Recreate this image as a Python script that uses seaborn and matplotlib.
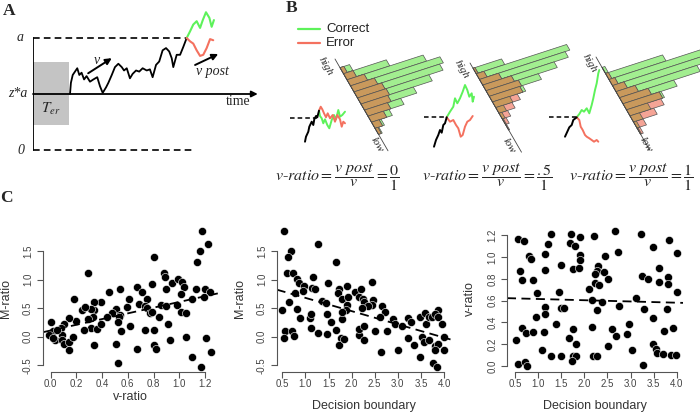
import matplotlib

matplotlib.use("Agg")

import matplotlib.pyplot as plt
import numpy as np
import pandas as pd
import seaborn as sns
from matplotlib.patches import Rectangle
from matplotlib.transforms import Affine2D

# ---------------- panel C data ----------------
c1_vratio = [1.18, 1.22, 1.16, 1.14, 0.80, 0.29, 0.88, 0.89, 0.94, 0.99, 1.02, 1.04, 0.79, 0.67, 0.71,
             0.45, 0.54, 1.13, 1.20, 1.24, 1.19, 1.10, 1.01, 0.90, 0.75, 0.61, 0.18, 0.39, 0.34, 0.34,
             0.31, 0.24, 0.27, 0.51, 0.48, 0.44, 0.54, 0.53, 0.59, 0.69, 0.73, 0.75, 0.77, 0.79, 0.86,
             0.90, 0.98, 1.01, 1.05, 0.84, 0.91, 0.62, 0.52, 0.55, 0.73, 0.80, 0.33, 0.29, 0.31, 0.36,
             0.39, 0.26, 0.20, 0.14, 0.10, 0.08, 0.00, 0.02, -0.01, 0.03, 0.09, 0.09, 0.02, 0.10, 0.14,
             0.17, 0.14, 0.34, 0.51, 0.67, 0.80, 0.82, 0.93, 1.05, 1.21, 1.10, 1.17, 1.25, 0.52, 0.05]
c1_mratio = [1.85, 1.62, 1.51, 1.31, 1.39, 1.12, 1.12, 1.04, 0.94, 1.02, 0.96, 0.87, 0.92, 0.88, 0.79,
             0.79, 0.83, 0.84, 0.84, 0.79, 0.70, 0.66, 0.75, 0.83, 0.67, 0.67, 0.66, 0.61, 0.61, 0.47,
             0.48, 0.46, 0.52, 0.48, 0.41, 0.35, 0.38, 0.34, 0.52, 0.57, 0.54, 0.50, 0.41, 0.44, 0.56,
             0.54, 0.56, 0.44, 0.42, 0.34, 0.23, 0.19, 0.25, 0.10, 0.12, 0.11, 0.35, 0.31, 0.16, 0.13,
             0.22, 0.11, 0.28, 0.32, 0.23, 0.15, 0.26, 0.10, 0.03, -0.05, 0.03, -0.06, -0.03, -0.13, -0.09,
             -0.01, -0.23, -0.15, -0.13, -0.22, -0.15, -0.22, -0.06, -0.01, -0.03, -0.35, -0.53, -0.27, -0.46, 0.12]

c2_bound = [0.54, 1.27, 0.69, 0.62, 1.66, 0.60, 0.73, 1.16, 0.82, 0.87, 2.45, 1.48, 0.98, 0.94, 0.77,
            1.14, 1.21, 1.73, 1.70, 1.89, 2.07, 2.20, 2.17, 2.24, 1.79, 1.92, 2.27, 2.47, 2.44, 2.35,
            2.22, 1.89, 1.88, 1.80, 1.37, 1.45, 1.46, 1.55, 0.65, 0.50, 0.82, 0.88, 1.10, 1.12, 1.79,
            2.65, 2.72, 2.61, 2.90, 2.94, 3.10, 3.23, 3.28, 3.47, 3.59, 3.61, 3.68, 3.75, 3.88, 3.81,
            3.86, 3.96, 0.56, 0.70, 0.76, 0.54, 1.12, 1.27, 1.47, 1.66, 1.78, 1.73, 1.84, 2.17, 2.27,
            2.17, 2.27, 2.51, 2.76, 3.21, 3.36, 3.52, 3.57, 3.68, 3.81, 3.88, 4.00, 4.00, 3.81, 2.64,
            3.01, 3.48, 3.76, 3.84]
c2_mratio = [1.85, 1.62, 1.51, 1.39, 1.31, 1.12, 1.12, 1.04, 1.02, 0.94, 0.96, 0.94, 0.89, 0.80, 0.76,
             0.85, 0.84, 0.84, 0.77, 0.89, 0.79, 0.84, 0.69, 0.67, 0.66, 0.70, 0.61, 0.65, 0.56, 0.54,
             0.50, 0.56, 0.46, 0.31, 0.63, 0.59, 0.40, 0.26, 0.61, 0.46, 0.48, 0.32, 0.32, 0.39, 0.44,
             0.53, 0.43, 0.35, 0.31, 0.23, 0.19, 0.33, 0.26, 0.34, 0.42, 0.23, 0.34, 0.35, 0.47, 0.40,
             0.35, 0.23, 0.10, 0.10, 0.01, -0.03, 0.16, 0.06, 0.04, 0.11, -0.03, -0.15, -0.04, 0.03, -0.06,
             0.13, 0.19, 0.10, 0.10, -0.03, -0.15, -0.01, -0.09, -0.06, -0.16, -0.13, -0.01, -0.23, -0.23, -0.27,
             -0.23, -0.36, -0.46, -0.53]

c3_bound = [0.56, 0.69, 1.28, 1.21, 1.71, 1.68, 1.80, 1.91, 2.22, 2.66, 2.74, 3.23, 3.49, 3.84, 4.00,
            0.80, 0.85, 1.16, 1.91, 1.91, 2.45, 1.50, 2.30, 1.16, 1.75, 1.89, 3.62, 0.61, 0.65, 0.88,
            2.27, 2.23, 2.43, 2.51, 2.23, 2.32, 2.11, 3.24, 3.37, 3.62, 3.82, 3.82, 1.46, 0.97, 4.00,
            2.17, 2.38, 3.12, 1.15, 1.49, 1.56, 2.27, 2.76, 3.30, 3.78, 0.95, 1.15, 3.48, 1.39, 2.97,
            2.16, 1.75, 2.61, 3.93, 3.73, 0.65, 0.74, 0.90, 1.13, 2.68, 2.92, 0.52, 1.67, 1.81, 1.09,
            1.28, 1.49, 1.75, 1.83, 2.18, 2.28, 2.51, 3.03, 3.48, 3.55, 3.58, 3.70, 3.87, 3.98, 0.56,
            0.72, 0.75, 1.74, 3.26]
c3_vratio = [1.17, 1.15, 1.21, 1.12, 1.21, 1.13, 1.10, 1.18, 1.19, 1.24, 1.05, 1.21, 1.09, 1.16, 1.04,
             1.01, 0.98, 1.03, 1.02, 0.97, 1.01, 0.93, 0.92, 0.88, 0.89, 0.90, 0.90, 0.87, 0.79, 0.79,
             0.87, 0.84, 0.86, 0.80, 0.76, 0.74, 0.71, 0.83, 0.80, 0.77, 0.82, 0.75, 0.68, 0.67, 0.68,
             0.61, 0.59, 0.62, 0.54, 0.53, 0.53, 0.51, 0.55, 0.52, 0.52, 0.45, 0.48, 0.44, 0.39, 0.39,
             0.36, 0.34, 0.34, 0.35, 0.32, 0.35, 0.30, 0.31, 0.31, 0.28, 0.29, 0.24, 0.26, 0.20, 0.15,
             0.09, 0.09, 0.09, 0.09, 0.09, 0.09, 0.18, 0.15, 0.20, 0.16, 0.12, 0.11, 0.10, 0.10, 0.02,
             0.04, 0.00, 0.05, 0.01]

# ---------------- panel A data (time, evidence: 0 = lower bound, 1 = upper bound a) ----------------
walk_t = [1.63, 1.67, 1.75, 1.85, 1.95, 2.04, 2.14, 2.25, 2.36, 2.51, 2.66, 2.83, 2.95, 3.07, 3.22, 3.32,
          3.47, 3.61, 3.76, 3.91, 4.01, 4.13, 4.27, 4.39, 4.54, 4.68, 4.83, 5.01, 5.15, 5.27, 5.42, 5.56,
          5.71, 5.86, 6.00, 6.11, 6.18, 6.33, 6.48, 6.62, 6.77]
walk_e = [0.50, 0.60, 0.67, 0.70, 0.73, 0.67, 0.69, 0.63, 0.66, 0.61, 0.63, 0.65, 0.57, 0.51, 0.56, 0.60,
          0.67, 0.74, 0.77, 0.74, 0.71, 0.73, 0.64, 0.68, 0.71, 0.70, 0.73, 0.71, 0.72, 0.65, 0.76, 0.79,
          0.89, 0.91, 0.88, 0.82, 0.74, 0.85, 0.85, 0.92, 1.00]
post_green_t = [6.77, 6.92, 7.06, 7.21, 7.36, 7.48, 7.62, 7.77, 7.87, 7.97]
post_green_e = [1.00, 1.06, 1.12, 1.15, 1.09, 1.16, 1.23, 1.18, 1.10, 1.16]
post_red_t = [6.77, 6.92, 7.06, 7.21, 7.36, 7.50, 7.65, 7.80, 7.94]
post_red_e = [1.00, 0.97, 0.95, 0.89, 0.84, 0.85, 0.91, 0.99, 0.98]

# ---------------- panel B data ----------------
vratio_num = ["0", ".5", "1"]
correct_hist = [[10, 45, 80, 94, 90, 75, 55, 38, 22, 10, 4],
                [30, 95, 90, 75, 55, 35, 18, 8, 3, 1, 0],
                [3, 60, 96, 95, 85, 57, 40, 22, 10, 3, 1]]
error_hist = [[4, 10, 18, 25, 29, 30, 28, 24, 16, 8, 3],
              [2, 8, 20, 30, 34, 32, 26, 17, 9, 4, 1],
              [0, 3, 6, 12, 20, 30, 38, 36, 25, 10, 3]]
# traces around the boundary crossing (time offset, evidence offset; upward positive)
pre_t = [[-11.7, -10.7, -8.4, -7.4, -5.0, -3.4, -2.4, -0.7, 0.6, 2.3],
         [-12.7, -10.7, -8.4, -6.7, -5.0, -3.4, -1.7, 0.0],
         [-11.7, -9.4, -7.4, -5.0, -3.4, 0.0]]
pre_e = [[-23.4, -18.4, -13.4, -8.4, -3.4, -6.7, -1.0, 2.3, 1.0, 7.6],
         [-29.4, -22.7, -17.7, -12.7, -15.4, -7.7, -6.0, 0.0],
         [-19.4, -14.4, -10.0, -7.7, -2.7, 0.0]]
cor_t = [[2.3, 3.3, 5.0, 6.6, 8.3, 10.6, 12.6, 15.0, 17.3, 19.3, 21.6, 23.3, 25.6, 28.3],
         [0.0, 3.3, 6.6, 8.3, 10.6, 13.3, 16.0, 18.3, 20.6, 22.6, 25.0, 26.0, 27.3],
         [0.0, 2.6, 5.0, 7.3, 10.0, 12.6, 15.0, 16.6, 18.3, 20.0, 21.6, 22.6]]
cor_e = [[7.6, 2.3, 0.0, -5.0, -1.0, -6.7, -10.0, -1.7, 3.3, -1.0, 8.3, 1.6, 3.3, 6.6],
         [0.0, 5.6, 10.6, 19.0, 14.0, 19.0, 25.6, 32.3, 27.3, 20.6, 24.0, 15.6, 20.6],
         [0.0, 3.3, 7.3, 5.6, 9.0, 4.0, 12.3, 19.0, 27.3, 34.0, 44.0, 47.3]]
err_t = [[2.3, 4.0, 5.6, 7.3, 9.3, 11.0, 13.3, 16.0, 18.3, 20.6, 23.3, 25.0, 26.6, 28.3],
         [0.0, 3.3, 6.6, 9.3, 11.6, 14.0, 16.0, 18.3, 20.6, 23.3, 26.0],
         [0.0, 2.6, 4.0, 6.0, 8.3, 10.0, 12.6, 15.0, 17.3, 20.0, 21.6]]
err_e = [[7.6, 11.6, 9.0, 5.0, 1.0, 5.0, 0.0, 3.3, -3.4, 3.3, -1.0, -8.4, -3.4, -5.0],
         [0.0, -4.4, -2.7, -7.7, -11.0, -19.4, -17.7, -9.4, -4.4, -2.7, 1.3],
         [0.0, -2.7, -9.4, -12.7, -17.7, -19.4, -21.0, -22.7, -24.4, -22.7, -24.4]]

GREEN = "#5df25a"
RED = "#f4715f"
BAR_GREEN = "#a2ee90"
BAR_BROWN = "#c9995c"
BAR_RED = "#f5a496"

sns.set_theme(style="white")
plt.rcParams["font.family"] = ["Liberation Sans", "DejaVu Sans"]
plt.rcParams["mathtext.fontset"] = "stix"

W, H = 700, 412
fig = plt.figure(figsize=(7, 4.12), dpi=100)


def box(left, top, right, bottom):
    return [left / W, 1 - bottom / H, (right - left) / W, (bottom - top) / H]


# overlay in pixel units for panel letters and panel B
ov = fig.add_axes([0, 0, 1, 1])
ov.set_xlim(0, W)
ov.set_ylim(H, 0)
ov.axis("off")

serif = "Liberation Serif"
for lab, x, y in [("A", 9, 11), ("B", 292, 8), ("C", 6, 198)]:
    ov.text(x, y, lab, fontsize=12.5, fontweight="bold", family=serif, ha="center", va="center")

# ---------------- panel A ----------------
axA = fig.add_axes(box(33, 5, 260, 158))
axA.set_xlim(0, 10)
axA.set_ylim(-0.0714, 1.2946)
axA.axis("off")
axA.add_patch(Rectangle((0, 0.223), 1.59, 0.563, facecolor="#c4c4c4", edgecolor="none"))
axA.plot([0, 0], [0, 1], color="black", lw=1.3)
axA.plot([0, 6.78], [1, 1], color="black", lw=1.2, ls=(0, (4, 2.5)))
axA.plot([0, 7.05], [0, 0], color="black", lw=1.2, ls=(0, (4, 2.5)))
axA.annotate("", xy=(9.9, 0.5), xytext=(0, 0.5),
             arrowprops=dict(arrowstyle="-|>", lw=1.3, color="black", mutation_scale=9, shrinkA=0, shrinkB=0))
axA.plot(walk_t, walk_e, color="black", lw=1.3)
axA.plot(post_green_t, post_green_e, color=GREEN, lw=1.5)
axA.plot(post_red_t, post_red_e, color=RED, lw=1.5)
for start, end in [((2.43, 0.685), (3.47, 0.82)), ((7.14, 0.759), (8.16, 0.857))]:
    axA.annotate("", xy=end, xytext=start,
                 arrowprops=dict(arrowstyle="-|>", lw=1.4, color="black", mutation_scale=9, shrinkA=0, shrinkB=0))
it = dict(family=serif, style="italic", fontsize=10, ha="center", va="center")
axA.text(2.8, 0.80, "v", **it)
axA.text(7.9, 0.705, "v post", **it)
axA.text(-0.55, 1.0, "a", **it)
axA.text(-0.25, 0.5, "z*a", **dict(it, ha="right"))
axA.text(-0.55, 0.0, "0", **it)
axA.text(9.05, 0.43, "time", family=serif, fontsize=10, ha="center", va="center")
axA.text(0.78, 0.37, r"$T_{er}$", fontsize=11, ha="center", va="center")

# ---------------- panel B ----------------
ov.plot([298, 320], [29.3, 29.3], color=GREEN, lw=1.6)
ov.plot([298, 320], [43.3, 43.3], color=RED, lw=1.6)
ov.text(326, 29.3, "Correct", fontsize=9.5, va="center", color="#222222")
ov.text(326, 43.3, "Error", fontsize=9.5, va="center", color="#222222")

bar_ang = np.deg2rad(18)
diag_ang = np.deg2rad(60)
bdir = np.array([np.cos(bar_ang), -np.sin(bar_ang)])
ddir = np.array([np.cos(diag_ang), np.sin(diag_ang)])
diagrams = [
    dict(d0=(335, 59), dlen=106, s0=10, bw=7.0, origin=(316.7, 118.3), dash=26.7,
         high=(325, 66), low=(377, 145), fx=337),
    dict(d0=(470, 63), dlen=103, s0=6, bw=6.5, origin=(446.7, 117.3), dash=23,
         high=(461, 69), low=(509, 146), fx=487),
    dict(d0=(596, 57), dlen=107, s0=12, bw=7.0, origin=(576.7, 117.3), dash=28,
         high=(589, 63), low=(646, 145), fx=631),
]
for i, dg in enumerate(diagrams):
    ox, oy = dg["d0"]
    mtx = np.array([[bdir[0], ddir[0], ox], [bdir[1], ddir[1], oy], [0, 0, 1]])
    tr = Affine2D(mtx) + ov.transData
    c = np.array(correct_hist[i], dtype=float)
    e = np.array(error_hist[i], dtype=float)
    pos = dg["s0"] + dg["bw"] * (np.arange(len(c)) + 0.5)
    kw = dict(height=dg["bw"], left=0, edgecolor="#555555", linewidth=0.5, transform=tr)
    ov.barh(pos, c, color=BAR_GREEN, **kw)
    ov.barh(pos, e, color=BAR_RED, **kw)
    ov.barh(pos, np.minimum(c, e), color=BAR_BROWN, **kw)
    end = np.array(dg["d0"]) + ddir * dg["dlen"]
    ov.plot([ox, end[0]], [oy, end[1]], color="#444444", lw=0.6)
    ov.text(*dg["high"], "high", family=serif, style="italic", fontsize=8, rotation=-60,
            ha="center", va="center")
    ov.text(*dg["low"], "low", family=serif, style="italic", fontsize=8, rotation=-60,
            ha="center", va="center")

    # traces around the boundary crossing
    ptr = Affine2D().scale(1, -1).translate(*dg["origin"]) + ov.transData
    ov.plot([-dg["dash"], 0], [0, 0], color="black", lw=1.1, ls=(0, (3, 2)), transform=ptr)
    ov.plot(cor_t[i], cor_e[i], color=GREEN, lw=1.4, transform=ptr)
    ov.plot(err_t[i], err_e[i], color=RED, lw=1.4, transform=ptr)
    ov.plot(pre_t[i], pre_e[i], color="black", lw=1.4, transform=ptr)

    ov.text(dg["fx"], 177,
            r"$v$-$ratio = \dfrac{v\ post}{v} = \dfrac{%s}{1}$" % vratio_num[i],
            family=serif, fontsize=11.5, ha="center", va="center")

# ---------------- panel C ----------------
panels = [
    dict(x=c1_vratio, y=c1_mratio, rect=box(42.7, 225.9, 217.8, 371.7), xlim=(-0.062, 1.30),
         ylim=(-0.614, 1.944), xt=[0.0, 0.2, 0.4, 0.6, 0.8, 1.0, 1.2], yt=[-0.5, 0.0, 0.5, 1.0, 1.5],
         xl="v-ratio", yl="M-ratio", xpad=1.5),
    dict(x=c2_bound, y=c2_mratio, rect=box(276.7, 225.9, 450.5, 371.7), xlim=(0.379, 4.14),
         ylim=(-0.614, 1.944), xt=[0.5, 1.0, 1.5, 2.0, 2.5, 3.0, 3.5, 4.0], yt=[-0.5, 0.0, 0.5, 1.0, 1.5],
         xl="Decision boundary", yl="M-ratio", xpad=8),
    dict(x=c3_bound, y=c3_vratio, rect=box(507, 225, 683, 371.7), xlim=(0.327, 4.136),
         ylim=(-0.052, 1.294), xt=[0.5, 1.0, 1.5, 2.0, 2.5, 3.0, 3.5, 4.0],
         yt=[0.0, 0.2, 0.4, 0.6, 0.8, 1.0, 1.2], xl="Decision boundary", yl="v-ratio", xpad=8),
]
for p in panels:
    ax = fig.add_axes(p["rect"])
    ax.set_facecolor("none")
    ax.set_xlim(*p["xlim"])
    ax.set_ylim(*p["ylim"])
    df = pd.DataFrame({"x": p["x"], "y": p["y"]})
    sns.regplot(data=df, x="x", y="y", ax=ax, ci=None, truncate=False, color="black",
                scatter_kws=dict(s=34, edgecolor="white", linewidths=0.4, alpha=1),
                line_kws=dict(lw=1.3, ls=(0, (5, 3))))
    ax.set_xlim(*p["xlim"])
    ax.set_ylim(*p["ylim"])
    sns.despine(ax=ax)
    ax.spines["left"].set_bounds(p["yt"][0], p["yt"][-1])
    ax.spines["bottom"].set_bounds(p["xt"][0], p["xt"][-1])
    for s in ("left", "bottom"):
        ax.spines[s].set_color("#555555")
        ax.spines[s].set_linewidth(0.8)
    ax.set_xticks(p["xt"])
    ax.set_yticks(p["yt"])
    ax.set_xticklabels([f"{v:.1f}" for v in p["xt"]])
    ax.set_yticklabels([f"{v:.1f}" for v in p["yt"]], rotation=90, va="center")
    ax.tick_params(length=4, width=0.8, color="#555555", labelsize=7, labelcolor="#444444", pad=1.5,
                   left=True, bottom=True)
    ax.tick_params(axis="y", pad=3)
    ax.set_xlabel(p["xl"], fontsize=9, color="#333333", labelpad=p["xpad"])
    ax.set_ylabel(p["yl"], fontsize=9, color="#333333", labelpad=8)

fig.savefig("out.png", dpi=100)
